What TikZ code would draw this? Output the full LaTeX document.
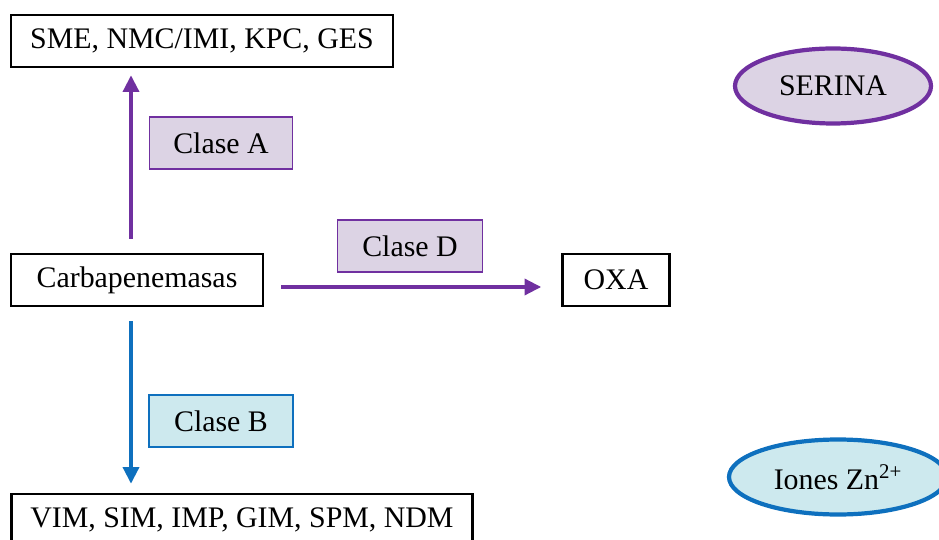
\documentclass[tikz,border=0pt]{standalone}
\usepackage{fontspec}
\setmainfont{Liberation Serif}
\usetikzlibrary{arrows.meta,shapes.geometric}

\definecolor{morado}{HTML}{7030A0}
\definecolor{moradoclaro}{HTML}{DCD3E4}
\definecolor{azul}{HTML}{0E70BE}
\definecolor{azulclaro}{HTML}{CDE9EE}

\tikzset{
    caja/.style={draw=black, line width=1.4pt, inner sep=0pt, minimum height=52*0.02cm, font=\fontsize{17}{20}\selectfont},
    claseA/.style={caja, draw=morado, line width=1pt, fill=moradoclaro},
    claseB/.style={caja, draw=azul, line width=1pt, fill=azulclaro},
    elipse/.style={ellipse, line width=2.4pt, inner sep=0pt, minimum height=75*0.02cm, font=\fontsize{17}{20}\selectfont},
    flecha/.style={line width=2.2pt, -{Triangle[width=9pt,length=9.5pt]}}
}

\begin{document}
\begin{tikzpicture}[x=0.02cm, y=-0.02cm]

    \clip (0,0) rectangle (939,540);

    % Cajas
    \node[caja, minimum width=382*0.02cm] (sme) at (202,41) {SME, NMC/IMI, KPC, GES};
    \node[caja, minimum width=252*0.02cm] (carb) at (137,280) {Carbapenemasas\hspace{6pt}};
    \node[caja, minimum width=107*0.02cm] (oxa) at (616,280) {OXA};
    \node[caja, minimum width=461*0.02cm] (vim) at (242,520) {VIM, SIM, IMP, GIM, SPM, NDM};

    % Clases
    \node[claseA, minimum width=143*0.02cm] (clA) at (221,143) {Clase A};
    \node[claseA, minimum width=145*0.02cm] (clD) at (410,246) {Clase D};
    \node[claseB, minimum width=144*0.02cm] (clB) at (221,421) {Clase B};

    % Elipses
    \node[elipse, draw=morado, fill=moradoclaro, minimum width=196*0.02cm] (serina) at (833,86) {SERINA};
    \node[elipse, draw=azul, fill=azulclaro, minimum width=218*0.02cm] (zinc) at (838,477) {Iones Zn\textsuperscript{2+}};

    % Flechas
    \draw[flecha, morado, shorten <=14*0.02cm, shorten >=7*0.02cm]
        ([xshift=-6*0.02cm]carb.north) -- ([xshift=-6*0.02cm]carb.north |- sme.south);
    \draw[flecha, morado, shorten <=17*0.02cm, shorten >=20*0.02cm]
        ([yshift=-7*0.02cm]carb.east) -- ([yshift=-7*0.02cm]carb.east -| oxa.west);
    \draw[flecha, azul, shorten <=14*0.02cm, shorten >=9*0.02cm]
        ([xshift=-6*0.02cm]carb.south) -- ([xshift=-6*0.02cm]carb.south |- vim.north);

\end{tikzpicture}
\end{document}
